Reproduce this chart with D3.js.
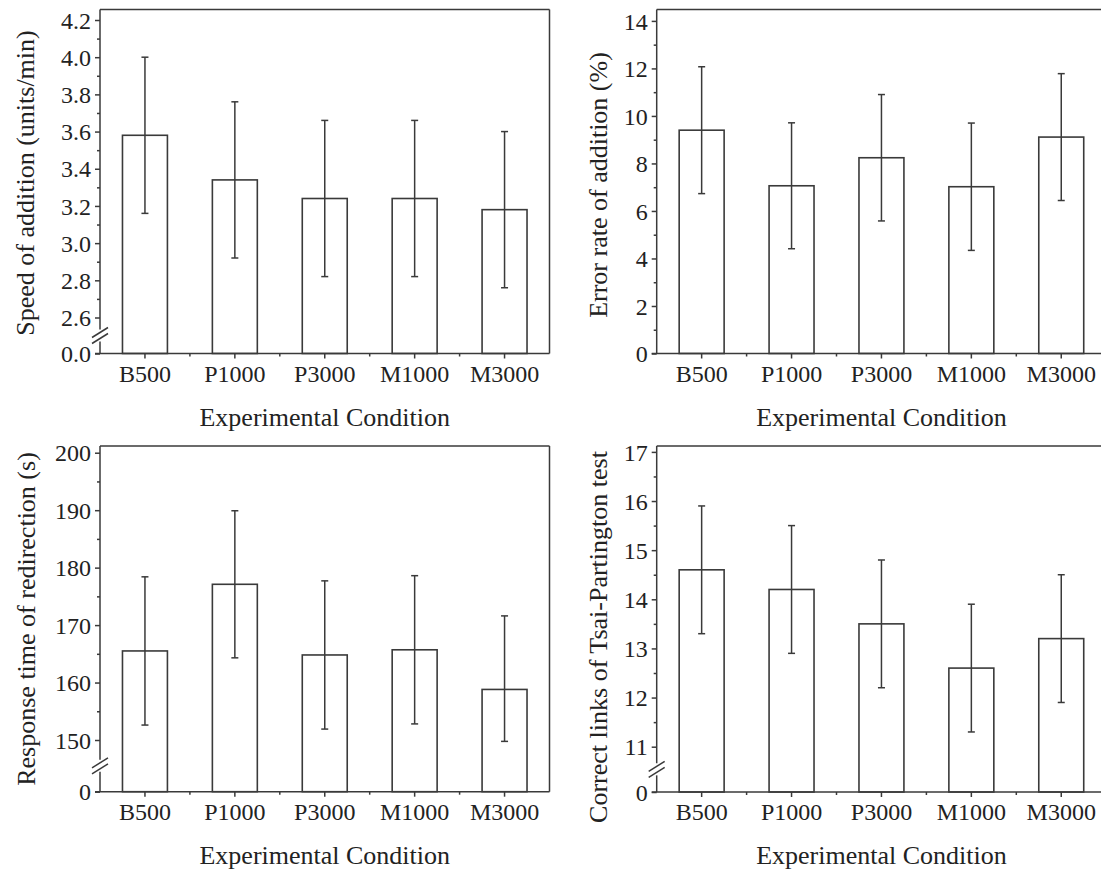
<!DOCTYPE html>
<html>
<head>
<meta charset="utf-8">
<script src="https://cdn.jsdelivr.net/npm/d3@7"></script>
<style>
  body { margin: 0; background: #fff; }
  svg { display: block; font-family: "Liberation Serif", "Times New Roman", serif; }
  .tick text { fill: #222; }
  .tick line, .frame, .axis-line, .break-line, .cap, .whisker { stroke: #3a3a3a; stroke-width: 1.5; }
  .bar { fill: #fff; stroke: #3a3a3a; stroke-width: 1.6; }
  .title { fill: #222; font-size: 26px; }
</style>
</head>
<body>
<svg id="chart"></svg>
<script>
// data
var categories = ["B500", "P1000", "P3000", "M1000", "M3000"];

var speedMean = [3.58, 3.34, 3.24, 3.24, 3.18];
var speedErr = [0.42, 0.42, 0.42, 0.42, 0.42];
var speedTicks = [0, 2.6, 2.8, 3.0, 3.2, 3.4, 3.6, 3.8, 4.0, 4.2];
var speedMinor = [2.7, 2.9, 3.1, 3.3, 3.5, 3.7, 3.9, 4.1];

var errorMean = [9.40, 7.06, 8.24, 7.02, 9.11];
var errorErr = [2.67, 2.65, 2.66, 2.68, 2.67];
var errorTicks = [0, 2, 4, 6, 8, 10, 12, 14];
var errorMinor = [1, 3, 5, 7, 9, 11, 13];

var responseMean = [165.5, 177.1, 164.8, 165.7, 158.8];
var responseErr = [12.9, 12.8, 12.9, 12.9, 12.8];
var responseTicks = [0, 150, 160, 170, 180, 190, 200];
var responseMinor = [155, 165, 175, 185, 195];

var linksMean = [14.6, 14.2, 13.5, 12.6, 13.2];
var linksErr = [1.3, 1.3, 1.3, 1.3, 1.3];
var linksTicks = [0, 11, 12, 13, 14, 15, 16, 17];
var linksMinor = [11.5, 12.5, 13.5, 14.5, 15.5, 16.5];

//begin: layout conf.
var svgWidth = 1101, svgHeight = 870;
var panels = [
    { x0: 100, y0: 9.5, w: 449.5, h: 344, mean: speedMean, err: speedErr,
      ticks: speedTicks, minor: speedMinor, fmt: d3.format(".1f"),
      top: 4.2565, breakAt: 2.6, gap: 36,
      title: "Speed of addition (units/min)", titleX: 25, titleY: 183 },
    { x0: 656.7, y0: 9.5, w: 449.5, h: 344, mean: errorMean, err: errorErr,
      ticks: errorTicks, minor: errorMinor, fmt: d3.format("d"),
      top: 14.48, breakAt: null, gap: 0,
      title: "Error rate of addition (%)", titleX: 598, titleY: 185 },
    { x0: 100, y0: 446, w: 449.5, h: 345.7, mean: responseMean, err: responseErr,
      ticks: responseTicks, minor: responseMinor, fmt: d3.format("d"),
      top: 201.17, breakAt: 150, gap: 51.7,
      title: "Response time of redirection (s)", titleX: 26, titleY: 619 },
    { x0: 656.7, y0: 446, w: 449.5, h: 346, mean: linksMean, err: linksErr,
      ticks: linksTicks, minor: linksMinor, fmt: d3.format("d"),
      top: 17.12, breakAt: 11, gap: 45.3,
      title: "Correct links of Tsai-Partington test", titleX: 598, titleY: 637 }
];
var capHalf = 3.5;
//end: layout conf.

var svg = d3.select("#chart")
    .attr("width", svgWidth)
    .attr("height", svgHeight);

panels.forEach(drawPanel);

function drawPanel(p) {
    var g = svg.append("g")
        .attr("transform", "translate(" + [p.x0, p.y0] + ")");

    var x = d3.scaleBand()
        .domain(categories)
        .range([0, p.w])
        .paddingInner(0.5)
        .paddingOuter(0.25);

    var y = d3.scaleLinear();
    if (p.breakAt === null) {
        y.domain([0, p.top]).range([p.h, 0]);
    } else {
        y.domain([0, p.breakAt, p.top]).range([p.h, p.h - p.gap, 0]);
    }

    // frame: top and right
    g.append("line").classed("frame", true)
        .attr("x1", 0).attr("x2", p.w).attr("y1", 0).attr("y2", 0);
    g.append("line").classed("frame", true)
        .attr("x1", p.w).attr("x2", p.w).attr("y1", 0).attr("y2", p.h);

    // bars
    var rows = categories.map(function (c, i) { return { name: c, mean: p.mean[i], err: p.err[i] }; });
    g.selectAll(".bar")
        .data(rows)
        .enter()
        .append("rect")
        .classed("bar", true)
        .attr("x", function (d) { return x(d.name); })
        .attr("width", x.bandwidth())
        .attr("y", function (d) { return y(d.mean); })
        .attr("height", function (d) { return p.h - y(d.mean); });

    // error bars
    var eb = g.selectAll(".errbar")
        .data(rows)
        .enter()
        .append("g")
        .attr("transform", function (d) { return "translate(" + (x(d.name) + x.bandwidth() / 2) + ",0)"; });
    eb.append("line").classed("whisker", true)
        .attr("y1", function (d) { return y(d.mean - d.err); })
        .attr("y2", function (d) { return y(d.mean + d.err); });
    eb.append("line").classed("cap", true)
        .attr("x1", -capHalf).attr("x2", capHalf)
        .attr("y1", function (d) { return y(d.mean + d.err); })
        .attr("y2", function (d) { return y(d.mean + d.err); });
    eb.append("line").classed("cap", true)
        .attr("x1", -capHalf).attr("x2", capHalf)
        .attr("y1", function (d) { return y(d.mean - d.err); })
        .attr("y2", function (d) { return y(d.mean - d.err); });

    // y axis: major and minor ticks
    var yAxis = g.append("g")
        .call(d3.axisLeft(y).tickValues(p.ticks).tickFormat(p.fmt).tickSize(5).tickSizeOuter(0).tickPadding(4))
        .attr("font-family", null);
    yAxis.select(".domain").remove();
    yAxis.selectAll("text").style("font-size", "24px").attr("dy", "0.34em");
    var yMinor = g.append("g")
        .call(d3.axisLeft(y).tickValues(p.minor).tickFormat("").tickSize(3).tickSizeOuter(0));
    yMinor.select(".domain").remove();

    // y axis line, with a break if needed
    if (p.breakAt === null) {
        g.append("line").classed("axis-line", true)
            .attr("x1", 0).attr("x2", 0).attr("y1", 0).attr("y2", p.h);
    } else {
        var by = p.h - p.gap / 2;
        g.append("line").classed("axis-line", true)
            .attr("x1", 0).attr("x2", 0).attr("y1", 0).attr("y2", by - 6);
        g.append("line").classed("axis-line", true)
            .attr("x1", 0).attr("x2", 0).attr("y1", by + 6).attr("y2", p.h);
        [-3, 3].forEach(function (d) {
            g.append("line").classed("break-line", true)
                .attr("x1", -8).attr("y1", by + d + 5)
                .attr("x2", 8).attr("y2", by + d - 5);
        });
    }

    // x axis
    var xAxis = g.append("g")
        .attr("transform", "translate(0," + p.h + ")")
        .call(d3.axisBottom(x).tickSize(5).tickSizeOuter(0).tickPadding(6))
        .attr("font-family", null);
    xAxis.select(".domain").remove();
    xAxis.selectAll("text").style("font-size", "24px");
    g.append("line").classed("axis-line", true)
        .attr("x1", -5).attr("x2", p.w).attr("y1", p.h).attr("y2", p.h);
    // minor ticks between categories
    g.selectAll(".xminor")
        .data(d3.range(1, categories.length))
        .enter()
        .append("line").classed("cap", true)
        .attr("x1", function (i) { return i * x.step(); })
        .attr("x2", function (i) { return i * x.step(); })
        .attr("y1", p.h).attr("y2", p.h + 3);

    // titles
    g.append("text").classed("title", true)
        .attr("text-anchor", "middle")
        .attr("x", p.w / 2)
        .attr("y", p.h + 72)
        .text("Experimental Condition");
    svg.append("text").classed("title", true)
        .attr("text-anchor", "middle")
        .attr("transform", "translate(" + [p.titleX + 9, p.titleY] + ") rotate(-90)")
        .text(p.title);
}
</script>
</body>
</html>
